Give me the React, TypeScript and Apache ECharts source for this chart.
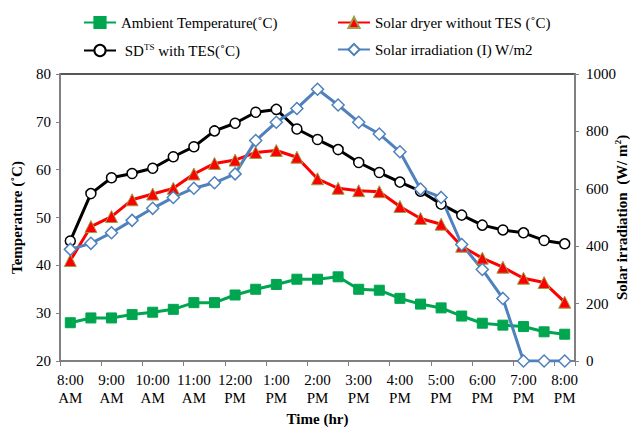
import React, { useEffect, useRef } from "react";
import * as echarts from "echarts";

const timeLabels = [
  "8:00\nAM", "8:30\nAM", "9:00\nAM", "9:30\nAM", "10:00\nAM", "10:30\nAM",
  "11:00\nAM", "11:30\nAM", "12:00\nPM", "12:30\nPM", "1:00\nPM", "1:30\nPM",
  "2:00\nPM", "2:30\nPM", "3:00\nPM", "3:30\nPM", "4:00\nPM", "4:30\nPM",
  "5:00\nPM", "5:30\nPM", "6:00\nPM", "6:30\nPM", "7:00\nPM", "7:30\nPM", "8:00\nPM",
];

const ambientTemp = [28.0, 29.0, 29.0, 29.7, 30.2, 30.8, 32.2, 32.2, 33.8, 35.0, 36.0, 37.1, 37.1, 37.6, 35.0, 34.8, 33.1, 31.9, 31.1, 29.4, 27.9, 27.5, 27.2, 26.1, 25.6];
const dryerWithoutTES = [41.0, 48.1, 50.2, 53.7, 54.9, 56.1, 59.1, 61.3, 62.0, 63.6, 64.0, 62.6, 58.1, 56.1, 55.6, 55.4, 52.3, 49.8, 48.6, 44.0, 41.5, 39.6, 37.3, 36.4, 32.3];
const dryerWithTES = [45.1, 55.0, 58.3, 59.2, 60.3, 62.7, 64.8, 68.1, 69.7, 72.0, 72.6, 68.5, 66.3, 64.2, 61.5, 59.4, 57.4, 55.5, 52.8, 50.5, 48.4, 47.4, 46.8, 45.2, 44.5];
const irradiation = [389, 410, 447, 490, 532, 570, 602, 621, 652, 768, 832, 880, 947, 892, 832, 791, 729, 599, 570, 406, 319, 218, 0, 0, 0];

const names = [
  "Ambient Temperature(˚C)",
  "Solar dryer without TES (˚C)",
  "SD with TES(˚C)",
  "Solar irradiation (I) W/m2",
];

const FONT = "'Liberation Serif', 'Times New Roman', serif";
const AXIS_GRAY = "#808080";

export default function App() {
  const ref = useRef<HTMLDivElement>(null);
  useEffect(() => {
    if (!ref.current) return;
    const chart = echarts.init(ref.current, null, { renderer: "svg" });
    const legendText = {
      fontFamily: FONT,
      fontSize: 15,
      color: "#000",
      rich: {
        sup: { fontFamily: FONT, fontSize: 9, verticalAlign: "top", padding: [0, 0, 8, 0] },
        n: { fontFamily: FONT, fontSize: 15 },
      },
    };
    const legendFormatter = (name: string) =>
      name === names[2] ? " {n|SD}{sup|TS}{n| with TES(˚C)}" : name;
    const legendCommon = {
      orient: "vertical",
      top: 10,
      itemWidth: 32,
      itemHeight: 14,
      itemGap: 12,
      textStyle: legendText,
      formatter: legendFormatter,
    };
    chart.setOption({
      animation: false,
      textStyle: { fontFamily: FONT },
      legend: [
        { ...legendCommon, data: [names[0], names[2]], left: 78 },
        { ...legendCommon, data: [names[1], names[3]], left: 332 },
      ],
      grid: {
        left: 60,
        right: 55,
        top: 74,
        bottom: 66,
        containLabel: false,
        outerBoundsMode: "none",
        show: true,
        borderColor: "#202020",
        borderWidth: 1.5,
      },
      xAxis: {
        type: "category",
        data: timeLabels,
        boundaryGap: true,
        name: "Time (hr)",
        nameLocation: "middle",
        nameGap: 50,
        nameTextStyle: { fontFamily: FONT, fontSize: 15, fontWeight: "bold", color: "#000" },
        axisLine: { lineStyle: { color: AXIS_GRAY, width: 2 } },
        axisTick: { show: true, interval: 1, length: 5, lineStyle: { color: AXIS_GRAY } },
        axisLabel: {
          interval: 1,
          fontFamily: FONT,
          fontSize: 15,
          color: "#000",
          lineHeight: 18,
          margin: 10,
        },
        splitLine: { show: false },
      },
      yAxis: [
        {
          type: "value",
          min: 20,
          max: 80,
          interval: 10,
          name: "Temperature (˚C)",
          nameLocation: "middle",
          nameRotate: 90,
          nameGap: 36,
          nameTextStyle: { fontFamily: FONT, fontSize: 15, fontWeight: "bold", color: "#000" },
          axisLine: { show: true, lineStyle: { color: AXIS_GRAY, width: 2 } },
          axisTick: { show: true, length: 4, lineStyle: { color: AXIS_GRAY } },
          axisLabel: { fontFamily: FONT, fontSize: 15, color: "#000", margin: 9 },
          splitLine: { show: false },
        },
        {
          type: "value",
          min: 0,
          max: 1000,
          interval: 200,
          name: "{b|Solar irradiation  (W/ m}{s|2}{b|)}",
          nameLocation: "middle",
          nameRotate: 90,
          nameGap: 38,
          nameMoveOverlap: false,
          nameTextStyle: {
            fontFamily: FONT,
            fontSize: 15,
            fontWeight: "bold",
            color: "#000",
            rich: {
              b: { fontFamily: FONT, fontSize: 15, fontWeight: "bold", color: "#000" },
              s: { fontFamily: FONT, fontSize: 9, fontWeight: "bold", color: "#000", verticalAlign: "top", padding: [0, 0, 8, 0] },
            },
          },
          axisLine: { show: true, lineStyle: { color: AXIS_GRAY, width: 2 } },
          axisTick: { show: true, length: 4, lineStyle: { color: AXIS_GRAY } },
          axisLabel: {
            fontFamily: FONT,
            fontSize: 15,
            color: "#000",
            margin: 11,
            formatter: (v: number) => String(v),
          },
          splitLine: { show: false },
        },
      ],
      series: [
        {
          name: names[0],
          type: "line",
          yAxisIndex: 0,
          data: ambientTemp,
          symbol: "rect",
          symbolSize: 10,
          lineStyle: { color: "#00A550", width: 3 },
          itemStyle: { color: "#00A550", borderColor: "#00A550", borderWidth: 1 },
        },
        {
          name: names[1],
          type: "line",
          yAxisIndex: 0,
          data: dryerWithoutTES,
          symbol: "triangle",
          symbolSize: 12,
          lineStyle: { color: "#FF0000", width: 3 },
          itemStyle: { color: "#FF0000", borderColor: "#9BA04A", borderWidth: 1 },
        },
        {
          name: names[2],
          type: "line",
          yAxisIndex: 0,
          data: dryerWithTES,
          symbol: "circle",
          symbolSize: 10,
          lineStyle: { color: "#000000", width: 3 },
          itemStyle: { color: "#FFFFFF", borderColor: "#000000", borderWidth: 1.5 },
        },
        {
          name: names[3],
          type: "line",
          yAxisIndex: 1,
          data: irradiation,
          symbol: "diamond",
          symbolSize: 12,
          lineStyle: { color: "#4F81BD", width: 3 },
          itemStyle: { color: "#FFFFFF", borderColor: "#4F81BD", borderWidth: 1.5 },
        },
      ],
    });
    return () => chart.dispose();
  }, []);
  return <div ref={ref} style={{ width: 630, height: 427, position: "absolute", left: 0, top: 0 }} />;
}
